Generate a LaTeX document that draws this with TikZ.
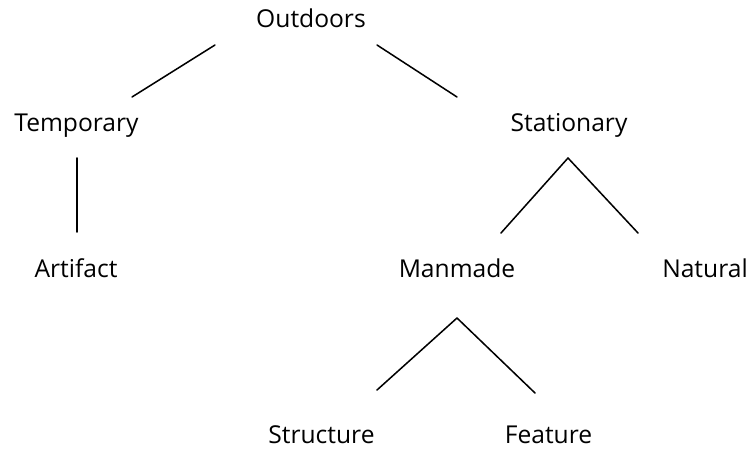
\documentclass[tikz,border=0pt]{standalone}
\usepackage{fontspec}
\setmainfont{Open Sans}
\usetikzlibrary{positioning}
\tikzset{
  term/.style={anchor=base,inner sep=0pt,font=\fontsize{21}{25}\selectfont},
  branch/.style={line width=1.3pt,line cap=round}
}
\begin{document}
\begin{tikzpicture}[line join=round,x=0.03cm,y=-0.03cm]
\useasboundingbox (0,0) rectangle (752,449);
% labels
\node[term] (out) at (311,28) {Outdoors};
\node[term] (tmp) at (76.5,131) {Temporary};
\node[term] (sta) at (569,131) {Stationary};
\node[term] (art) at (76,277) {Artifact};
\node[term] (man) at (457,277) {Manmade};
\node[term] (nat) at (705,277) {Natural};
\node[term] (str) at (321.5,443) {Structure};
\node[term] (fea) at (548.5,443) {Feature};
% line ends
\coordinate (out-l) at (215,45);
\coordinate (out-r) at (377,45);
\coordinate (tmp-t) at (132,97);
\coordinate (sta-t) at (457,97);
\coordinate (tmp-b) at (77,158);
\coordinate (art-t) at (77,232);
\coordinate (sta-b) at (568,158);
\coordinate (man-t) at (501,233);
\coordinate (nat-t) at (638,233);
\coordinate (man-b) at (457,318);
\coordinate (str-t) at (377,390);
\coordinate (fea-t) at (535,393);
% branches
\draw[branch] (out-l) -- (tmp-t);
\draw[branch] (out-r) -- (sta-t);
\draw[branch] (tmp-b) -- (art-t);
\draw[branch] (man-t) -- (sta-b) -- (nat-t);
\draw[branch] (str-t) -- (man-b) -- (fea-t);
\end{tikzpicture}
\end{document}
